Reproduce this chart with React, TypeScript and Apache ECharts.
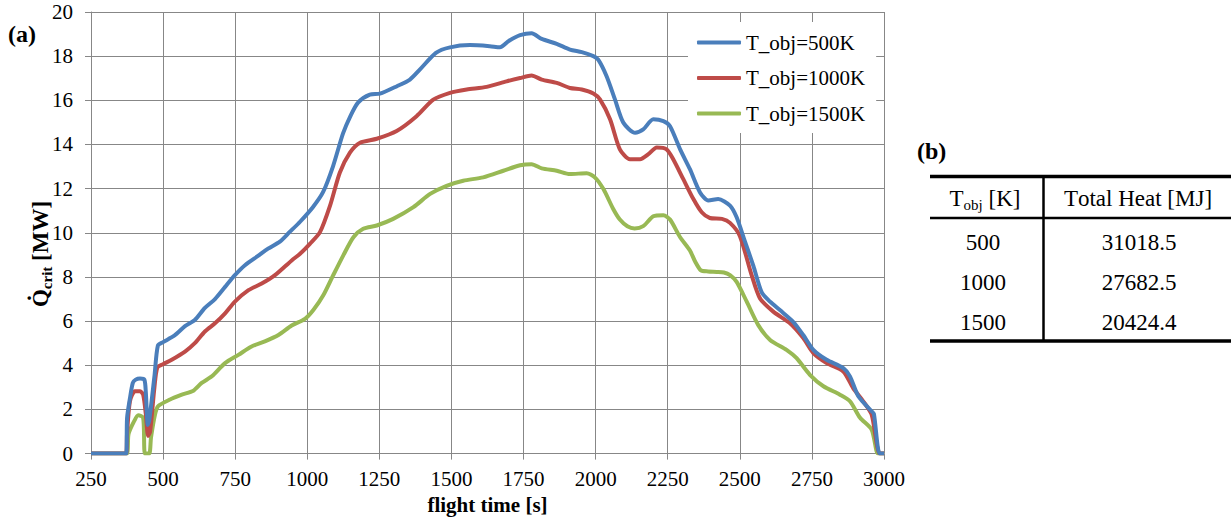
import React, { useEffect, useRef } from "react";
import * as echarts from "echarts";

const seriesNames = ["T_obj=500K", "T_obj=1000K", "T_obj=1500K"];
const seriesColors = ["#4A7EBB", "#BE4B48", "#98B954"];

const blueT = [250, 372, 375, 385, 395, 405, 420, 435, 440, 447, 452, 470, 482, 500, 540, 576, 610, 645, 680, 715, 749, 784, 829, 864, 905, 940, 975, 1020, 1055, 1089, 1124, 1150, 1176, 1217, 1252, 1311, 1356, 1391, 1446, 1495, 1564, 1633, 1668, 1700, 1738, 1778, 1813, 1865, 1911, 1952, 1992, 2009, 2038, 2067, 2096, 2137, 2165, 2200, 2235, 2258, 2293, 2327, 2362, 2391, 2425, 2466, 2489, 2518, 2547, 2576, 2605, 2639, 2685, 2720, 2755, 2801, 2859, 2882, 2911, 2957, 2965, 2985, 3000];
const blueQ = [0, 0, 1.6, 2.5, 3.2, 3.35, 3.4, 3.35, 2.8, 1.3, 1.5, 3.5, 4.9, 5.05, 5.35, 5.77, 6.05, 6.6, 7.0, 7.55, 8.08, 8.53, 8.95, 9.28, 9.6, 10.05, 10.5, 11.17, 11.85, 13.0, 14.5, 15.3, 15.9, 16.26, 16.3, 16.64, 16.94, 17.4, 18.15, 18.4, 18.5, 18.45, 18.4, 18.7, 18.95, 19.04, 18.78, 18.56, 18.3, 18.18, 18.0, 17.84, 17.09, 16.04, 14.99, 14.53, 14.68, 15.14, 15.06, 14.83, 13.78, 12.88, 11.83, 11.46, 11.53, 11.23, 10.7, 9.6, 8.5, 7.3, 6.88, 6.5, 5.97, 5.37, 4.7, 4.25, 3.87, 3.5, 2.6, 1.92, 1.8, 0, 0];

const redT = [250, 372, 375, 385, 402, 420, 431, 440, 448, 455, 470, 480, 500, 530, 576, 610, 645, 680, 715, 749, 796, 842, 888, 946, 975, 1009, 1044, 1079, 1113, 1148, 1183, 1241, 1310, 1379, 1437, 1495, 1553, 1622, 1691, 1738, 1778, 1813, 1865, 1911, 1952, 1992, 2015, 2050, 2084, 2119, 2154, 2183, 2212, 2246, 2269, 2304, 2339, 2368, 2396, 2438, 2466, 2500, 2541, 2570, 2616, 2674, 2720, 2755, 2801, 2859, 2893, 2928, 2957, 2985, 3000];
const redQ = [0, 0, 0.9, 2.37, 2.82, 2.82, 2.67, 1.8, 0.8, 1.0, 3.0, 3.9, 4.05, 4.25, 4.62, 5.0, 5.53, 5.9, 6.35, 6.88, 7.4, 7.7, 8.08, 8.75, 9.05, 9.5, 10.03, 11.23, 12.73, 13.63, 14.08, 14.26, 14.61, 15.28, 16.03, 16.34, 16.49, 16.61, 16.86, 17.01, 17.12, 16.94, 16.79, 16.56, 16.49, 16.31, 16.04, 15.14, 13.78, 13.33, 13.33, 13.56, 13.86, 13.78, 13.33, 12.43, 11.53, 10.93, 10.67, 10.63, 10.45, 9.86, 8.08, 7.03, 6.43, 5.9, 5.23, 4.55, 4.1, 3.72, 2.97, 2.37, 1.77, 0, 0];

const greenT = [250, 374, 380, 397, 414, 431, 437, 452, 458, 472, 483, 524, 565, 605, 634, 669, 715, 761, 807, 853, 900, 946, 992, 1021, 1056, 1090, 1125, 1160, 1194, 1241, 1298, 1368, 1426, 1483, 1541, 1610, 1680, 1738, 1778, 1813, 1865, 1911, 1969, 1998, 2027, 2061, 2084, 2110, 2135, 2165, 2200, 2235, 2258, 2293, 2327, 2345, 2365, 2390, 2420, 2445, 2466, 2489, 2524, 2564, 2605, 2662, 2697, 2743, 2790, 2847, 2882, 2917, 2957, 2974, 2980, 3000];
const greenQ = [0, 0, 0.87, 1.4, 1.74, 1.62, 0, 0, 0.72, 1.77, 2.15, 2.45, 2.67, 2.85, 3.2, 3.5, 4.1, 4.47, 4.85, 5.08, 5.37, 5.8, 6.1, 6.5, 7.18, 8.08, 8.98, 9.8, 10.18, 10.33, 10.63, 11.16, 11.76, 12.13, 12.36, 12.51, 12.81, 13.06, 13.11, 12.92, 12.81, 12.66, 12.7, 12.5, 11.98, 11.08, 10.6, 10.3, 10.2, 10.3, 10.75, 10.8, 10.6, 9.8, 9.2, 8.7, 8.3, 8.25, 8.23, 8.2, 8.08, 7.78, 6.88, 5.82, 5.15, 4.7, 4.32, 3.57, 3.05, 2.67, 2.37, 1.62, 1.09, 0.12, 0, 0];

const xTicks = { min: 250, max: 3000, interval: 250 };
const yTicks = { min: 0, max: 20, interval: 2 };

const tableTobj = ["500", "1000", "1500"];
const tableHeat = ["31018.5", "27682.5", "20424.4"];

const FONT = "Liberation Serif";
const FONT_LIST = "Liberation Serif, Times New Roman, serif";

function pairs(t: number[], q: number[]) {
  return t.map((v, i) => [v, q[i]]);
}

// write a string as two rich tokens of the same style
function split2(s: string, key = "n") {
  if (s.length < 2) return `{${key}|${s}}`;
  return `{${key}|${s.slice(0, 1)}}{${key}|${s.slice(1)}}`;
}

// table cell text: two tokens with separate style keys, like the header that renders reliably
function cell(x: number, y: number, text: string, size: number) {
  return {
    type: "text", x, y,
    style: {
      text: `{m|${text.slice(0, 1)}}{k|${text.slice(1)}}`,
      fill: "#000", align: "center", verticalAlign: "middle",
      rich: {
        m: { fontFamily: FONT_LIST, fontSize: size, lineHeight: size + 5, verticalAlign: "middle", fill: "#000" },
        k: { fontFamily: FONT_LIST, fontSize: size, lineHeight: size + 5, verticalAlign: "middle", fill: "#000" },
      },
    },
  };
}

function boldTxt(x: number, y: number, text: string, size: number) {
  return {
    type: "text", x, y,
    style: {
      text: split2(text), fill: "#000", align: "left", verticalAlign: "middle",
      rich: { n: { fontFamily: FONT, fontSize: size, fontWeight: "bold", lineHeight: size + 5, verticalAlign: "middle", fill: "#000" } },
    },
  };
}

export default function App() {
  const ref = useRef<HTMLDivElement>(null);
  useEffect(() => {
    if (!ref.current) return;
    const chart = echarts.init(ref.current, null, { renderer: "svg" });
    const data = [pairs(blueT, blueQ), pairs(redT, redQ), pairs(greenT, greenQ)];
    const gridColor = "#878787";
    const rowY = [242, 282, 322];
    const graphics: any[] = [
      boldTxt(8, 34, "(a)", 24),
      boldTxt(917, 151, "(b)", 24),
      {
        type: "text", x: 40, y: 254, rotation: Math.PI / 2,
        style: {
          text: "{b|Q\u0307}{s|crit}{b| [MW]}", align: "center", verticalAlign: "middle", fill: "#000",
          rich: {
            b: { fontFamily: FONT, fontWeight: "bold", fontSize: 23, lineHeight: 28, verticalAlign: "middle", fill: "#000" },
            s: { fontFamily: FONT, fontWeight: "bold", fontSize: 15, lineHeight: 15, verticalAlign: "bottom", fill: "#000" },
          },
        },
      },
      { type: "line", shape: { x1: 930, y1: 176.5, x2: 1231, y2: 176.5 }, style: { stroke: "#000", lineWidth: 3.5 } },
      { type: "line", shape: { x1: 930, y1: 218, x2: 1231, y2: 218 }, style: { stroke: "#000", lineWidth: 2.5 } },
      { type: "line", shape: { x1: 930, y1: 341, x2: 1231, y2: 341 }, style: { stroke: "#000", lineWidth: 3.5 } },
      { type: "line", shape: { x1: 1043.5, y1: 176, x2: 1043.5, y2: 341 }, style: { stroke: "#000", lineWidth: 2.5 } },
      {
        type: "text", x: 985, y: 198,
        style: {
          text: "{m|T}{s|obj}{m| [K]}", align: "center", verticalAlign: "middle", fill: "#000",
          rich: {
            m: { fontFamily: FONT, fontSize: 23, lineHeight: 28, verticalAlign: "middle", fill: "#000" },
            s: { fontFamily: FONT, fontSize: 15, lineHeight: 15, verticalAlign: "bottom", fill: "#000" },
          },
        },
      },
      cell(1138, 198, "Total Heat [MJ]", 23),
    ];
    tableTobj.forEach((t, i) => {
      graphics.push(cell(983, rowY[i], t, 23));
      graphics.push(cell(1139, rowY[i], tableHeat[i], 23));
    });

    const labelRich = {
      n: { fontFamily: FONT, fontSize: 21, lineHeight: 26, verticalAlign: "middle", color: "#000" },
    };

    const option: any = {
      animation: false,
      backgroundColor: "#fff",
      textStyle: { fontFamily: FONT },
      grid: { left: 91, top: 12, width: 793, height: 444, containLabel: false },
      xAxis: {
        type: "value",
        min: xTicks.min, max: xTicks.max, interval: xTicks.interval,
        name: "flight time [s]",
        nameLocation: "middle",
        nameGap: 38,
        nameTextStyle: { fontFamily: FONT, fontWeight: "bold", fontSize: 21, color: "#000" },
        axisLine: { show: true, lineStyle: { color: gridColor, width: 1 } },
        axisTick: { show: true, length: 6, inside: false, lineStyle: { color: gridColor } },
        axisLabel: { fontFamily: FONT, fontSize: 21, color: "#000", margin: 12, showMinLabel: true, showMaxLabel: true, formatter: (v: number) => split2(String(v)), rich: labelRich },
        splitLine: { show: true, lineStyle: { color: gridColor, width: 1 } },
      },
      yAxis: {
        type: "value",
        min: yTicks.min, max: yTicks.max, interval: yTicks.interval,
        axisLine: { show: true, lineStyle: { color: gridColor, width: 1 } },
        axisTick: { show: true, length: 6, inside: false, lineStyle: { color: gridColor } },
        axisLabel: { fontFamily: FONT, fontSize: 21, color: "#000", margin: 18, formatter: (v: number) => split2(String(v)), rich: labelRich },
        splitLine: { show: true, lineStyle: { color: gridColor, width: 1 } },
      },
      legend: {
        orient: "vertical",
        left: 688,
        top: 22,
        backgroundColor: "#fff",
        padding: [10, 11, 9, 9],
        icon: "roundRect",
        itemWidth: 44,
        itemHeight: 4,
        itemGap: 14.5,
        formatter: (name: string) => split2(name),
        textStyle: { fontFamily: FONT, fontSize: 21, color: "#000", rich: labelRich },
        data: seriesNames,
      },
      series: seriesNames.map((n, i) => ({
        name: n,
        type: "line",
        data: data[i],
        symbol: "none",
        smooth: 0.25,
        lineStyle: { color: seriesColors[i], width: 4 },
        itemStyle: { color: seriesColors[i] },
        z: 3 - i,
      })),
      graphic: graphics,
    };
    chart.setOption(option);
    return () => chart.dispose();
  }, []);
  return <div ref={ref} style={{ position: "fixed", left: 0, top: 0, width: 1231, height: 520 }} />;
}
